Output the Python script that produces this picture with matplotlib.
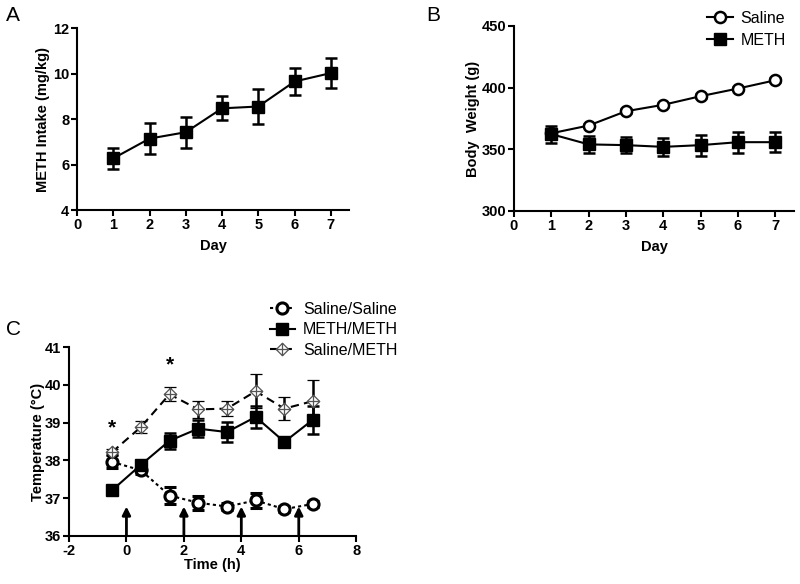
import matplotlib
matplotlib.use("Agg")
import matplotlib.pyplot as plt
from matplotlib.path import Path
import numpy as np

plt.rcParams['font.family'] = ['Liberation Sans', 'DejaVu Sans']
plt.rcParams['axes.unicode_minus'] = False

# ---------------- data ----------------
days = [1, 2, 3, 4, 5, 6, 7]
meth_intake = [6.27, 7.14, 7.42, 8.47, 8.55, 9.65, 10.02]
meth_intake_err = [0.47, 0.68, 0.69, 0.53, 0.75, 0.60, 0.65]

weight_saline = [363.0, 369.3, 380.9, 386.1, 393.1, 399.3, 406.0]
weight_saline_err = [1.5, 1.5, 1.5, 1.5, 1.5, 1.5, 1.5]
weight_meth = [362.3, 354.0, 353.4, 352.0, 353.4, 355.8, 355.8]
weight_meth_err = [7.0, 6.6, 6.5, 7.5, 8.5, 8.5, 8.0]

hours = [-0.5, 0.5, 1.5, 2.5, 3.5, 4.5, 5.5, 6.5]
temp_ss = [37.96, 37.74, 37.07, 36.88, 36.78, 36.94, 36.71, 36.85]
temp_ss_err = [0.17, 0.10, 0.22, 0.18, 0.08, 0.20, 0.08, 0.08]
temp_mm = [37.21, 37.88, 38.52, 38.84, 38.75, 39.15, 38.49, 39.08]
temp_mm_err = [0.05, 0.10, 0.21, 0.22, 0.27, 0.30, 0.05, 0.37]
temp_sm = [38.22, 38.88, 39.75, 39.35, 39.37, 39.83, 39.37, 39.57]
temp_sm_err = [0.08, 0.15, 0.18, 0.22, 0.20, 0.45, 0.30, 0.57]

injection_times = [0, 2, 4, 6]
star_positions = [(-0.5, 38.87), (1.5, 40.54)]

# ---------------- style helpers ----------------
TICK_FS = 10.5
LABEL_FS = 10.5


def style_axes(ax):
    for s in ['top', 'right']:
        ax.spines[s].set_visible(False)
    for s in ['left', 'bottom']:
        ax.spines[s].set_linewidth(1.5)
    ax.tick_params(direction='out', length=4, width=1.5, labelsize=TICK_FS, pad=1.5)
    for lab in ax.get_xticklabels() + ax.get_yticklabels():
        lab.set_fontweight('bold')


diamond_cross = Path(
    [(0, 1), (1, 0), (0, -1), (-1, 0), (0, 1), (0, 1), (0, -1), (-1, 0), (1, 0)],
    [Path.MOVETO, Path.LINETO, Path.LINETO, Path.LINETO, Path.CLOSEPOLY,
     Path.MOVETO, Path.LINETO, Path.MOVETO, Path.LINETO])

fig = plt.figure(figsize=(8, 5.84), dpi=100)

# ---------------- Panel A ----------------
axA = fig.add_axes([0.09625, 0.6404, 0.34, 0.3116])
axA.errorbar(days, meth_intake, yerr=meth_intake_err, color='black', lw=1.5,
             marker='s', ms=9, capsize=4.5, capthick=1.8, elinewidth=1.8)
axA.set_xlim(0, 7.5)
axA.set_ylim(4, 12)
axA.set_xticks(range(0, 8))
axA.set_yticks([4, 6, 8, 10, 12])
axA.set_xlabel('Day', fontsize=LABEL_FS, fontweight='bold', labelpad=5.5)
axA.set_ylabel('METH Intake (mg/kg)', fontsize=LABEL_FS, fontweight='bold', labelpad=2)
style_axes(axA)
fig.text(0.008, 0.99, 'A', fontsize=15, va='top', ha='left')

# ---------------- Panel B ----------------
axB = fig.add_axes([0.6425, 0.6387, 0.35, 0.3168])
axB.errorbar(days, weight_saline, yerr=weight_saline_err, color='black', lw=1.5,
             marker='o', ms=8, mfc='white', mec='black', mew=1.8,
             capsize=4, capthick=1.5, elinewidth=1.5, label='Saline')
axB.errorbar(days, weight_meth, yerr=weight_meth_err, color='black', lw=1.5,
             marker='s', ms=9, capsize=4.5, capthick=1.8, elinewidth=1.8, label='METH')
axB.set_xlim(0, 7.5)
axB.set_ylim(300, 450)
axB.set_xticks(range(0, 8))
axB.set_yticks([300, 350, 400, 450])
axB.set_xlabel('Day', fontsize=LABEL_FS, fontweight='bold', labelpad=5.5)
axB.set_ylabel('Body  Weight (g)', fontsize=LABEL_FS, fontweight='bold', labelpad=1.5)
style_axes(axB)
hB, lB = axB.get_legend_handles_labels()
hB = [h[0] for h in hB]
fig.legend(hB, lB, loc='upper left', bbox_to_anchor=(0.872, 0.998), frameon=False,
           fontsize=11.5, handlelength=1.6, handletextpad=0.5, labelspacing=0.45,
           borderaxespad=0.2)
fig.text(0.533, 0.99, 'B', fontsize=15, va='top', ha='left')

# ---------------- Panel C ----------------
axC = fig.add_axes([0.08625, 0.0822, 0.359, 0.3236])
l_ss = axC.errorbar(hours, temp_ss, yerr=temp_ss_err, color='black', lw=1.5,
                    ls=(0, (1.5, 1.5)), marker='o', ms=8, mfc='white', mec='black', mew=2.2,
                    capsize=4, capthick=1.8, elinewidth=1.8, label='Saline/Saline', zorder=3)
l_mm = axC.errorbar(hours, temp_mm, yerr=temp_mm_err, color='black', lw=1.5,
                    marker='s', ms=8.5, capsize=4, capthick=1.8, elinewidth=1.8,
                    label='METH/METH', zorder=3)
l_sm = axC.errorbar(hours, temp_sm, yerr=temp_sm_err, color='black', lw=1.5,
                    ls=(0, (4, 2.5)), marker=diamond_cross, ms=9, mfc='white', mec='#555555',
                    mew=0.9, capsize=4, capthick=1.8, elinewidth=1.8,
                    label='Saline/METH', zorder=4)
for lines in (l_ss, l_mm, l_sm):
    for c in lines[2]:
        c.set_linestyle('solid')
for t in injection_times:
    axC.annotate('', xy=(t, 36.78), xytext=(t, 36.0),
                 arrowprops=dict(arrowstyle='-|>', lw=2, color='black', mutation_scale=12,
                                 shrinkA=0, shrinkB=0))
for (sx, sy) in star_positions:
    axC.text(sx, sy, '*', fontsize=15, fontweight='bold', ha='center', va='center')
axC.set_xlim(-2, 8)
axC.set_ylim(36, 41)
axC.set_xticks([-2, 0, 2, 4, 6, 8])
axC.set_yticks([36, 37, 38, 39, 40, 41])
axC.set_xlabel('Time (h)', fontsize=LABEL_FS, fontweight='bold', labelpad=0.5)
axC.set_ylabel('Temperature (°C)', fontsize=LABEL_FS, fontweight='bold', labelpad=0)
style_axes(axC)
hC, lC = axC.get_legend_handles_labels()
hC = [h[0] for h in hC]
fig.legend(hC, lC, loc='upper left', bbox_to_anchor=(0.325, 0.5), frameon=False,
           fontsize=11.5, handlelength=1.6, handletextpad=0.5, labelspacing=0.35,
           borderaxespad=0.2)
fig.text(0.008, 0.436, 'C', fontsize=15, va='center', ha='left')

fig.savefig('out.png', dpi=100)
